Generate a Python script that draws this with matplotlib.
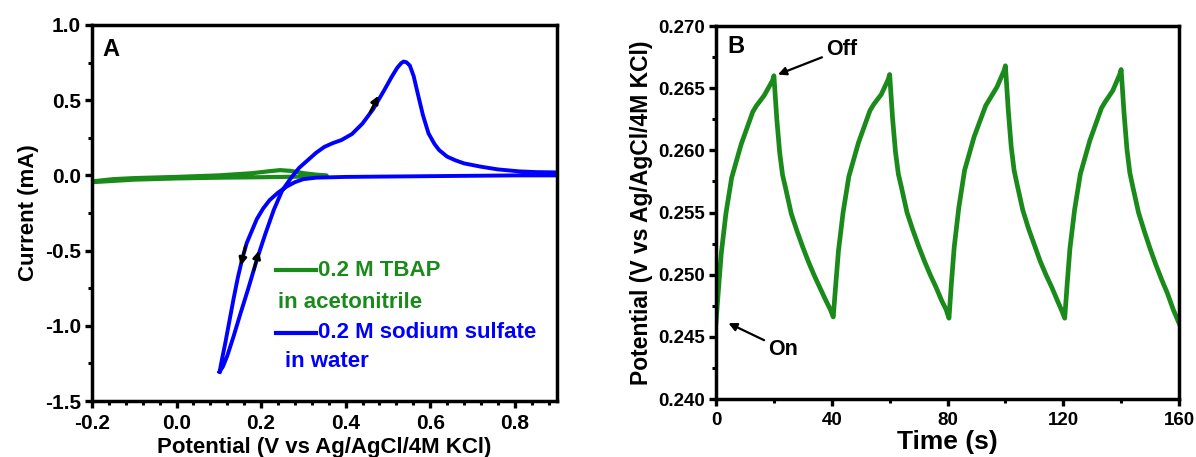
import matplotlib
matplotlib.use('Agg')
import matplotlib.pyplot as plt
from matplotlib.ticker import MultipleLocator

plt.rcParams['font.family'] = ['Liberation Sans', 'DejaVu Sans']
plt.rcParams['font.weight'] = 'bold'
plt.rcParams['axes.labelweight'] = 'bold'
plt.rcParams['axes.unicode_minus'] = False

# ---- panel A: cyclic voltammograms ----
# blue: 0.2 M sodium sulfate in water (forward scan then reverse scan)
blue_v = [0.102, 0.11, 0.12, 0.135, 0.15, 0.17, 0.19, 0.21, 0.23, 0.25, 0.27, 0.29, 0.31,
          0.33, 0.35, 0.37, 0.39, 0.415, 0.44, 0.465, 0.49, 0.51, 0.522, 0.531, 0.537,
          0.544, 0.552, 0.561, 0.571, 0.583, 0.596, 0.61, 0.621, 0.64, 0.66, 0.68, 0.72,
          0.76, 0.81, 0.85, 0.9,
          0.9, 0.8, 0.6, 0.4, 0.33, 0.3, 0.28, 0.26, 0.24, 0.22, 0.205, 0.19, 0.178,
          0.166, 0.155, 0.145, 0.135, 0.125, 0.115, 0.107, 0.102]
blue_i = [-1.305, -1.27, -1.2, -1.07, -0.93, -0.75, -0.56, -0.39, -0.23, -0.1, -0.02, 0.05, 0.1,
          0.15, 0.19, 0.215, 0.235, 0.275, 0.345, 0.44, 0.56, 0.66, 0.715, 0.745, 0.757,
          0.752, 0.73, 0.66, 0.54, 0.40, 0.28, 0.21, 0.169, 0.125, 0.1, 0.08, 0.058,
          0.04, 0.027, 0.022, 0.02,
          0.0, 0.0, -0.005, -0.01, -0.015, -0.025, -0.045, -0.075, -0.115, -0.165, -0.22,
          -0.29, -0.37, -0.45, -0.56, -0.68, -0.82, -0.97, -1.12, -1.23, -1.305]
# green: 0.2 M TBAP in acetonitrile
green_v = [-0.2, -0.15, -0.1, 0.0, 0.1, 0.18, 0.22, 0.245, 0.27, 0.3, 0.33, 0.355,
           0.355, 0.3, 0.2, 0.1, 0.0, -0.1, -0.2]
green_i = [-0.04, -0.025, -0.018, -0.01, 0.0, 0.015, 0.028, 0.035, 0.03, 0.015, 0.005, 0.0,
           -0.005, -0.008, -0.012, -0.015, -0.02, -0.028, -0.045]

# ---- panel B: potential vs time (light on/off) ----
time_s = [0, 0.8, 1.8, 3.4, 5.4, 8.7, 12.7, 14, 16.6, 19.5, 20,
          21, 22, 23, 24, 26, 28, 30, 32, 34, 36, 38, 39.5, 40.5,
          41.3, 42.3, 43.9, 45.9, 49.2, 53.2, 54.5, 57.1, 59.5, 60,
          61, 62, 63, 64, 66, 68, 70, 72, 74, 76, 78, 79.5, 80.5,
          81.3, 82.3, 83.9, 85.9, 89.2, 93.2, 94.5, 97.1, 99.5, 100,
          101, 102, 103, 104, 106, 108, 110, 112, 114, 116, 118, 119.5, 120.5,
          121.3, 122.3, 123.9, 125.9, 129.2, 133.2, 134.5, 137.1, 139.5, 140,
          141, 142, 143, 144, 146, 148, 150, 152, 154, 156, 158, 160]
potential = [0.2462, 0.2487, 0.2517, 0.2549, 0.2578, 0.2605, 0.2631, 0.2636, 0.2644, 0.2656, 0.2660,
             0.2625, 0.2598, 0.2580, 0.2570, 0.2549, 0.2535, 0.2522, 0.2510, 0.2499, 0.2489, 0.2479, 0.2472, 0.2466,
             0.2490, 0.2519, 0.2550, 0.2579, 0.2606, 0.2632, 0.2637, 0.2645, 0.2657, 0.2661,
             0.2626, 0.2599, 0.2581, 0.2571, 0.2550, 0.2536, 0.2523, 0.2511, 0.2500, 0.2490, 0.2479, 0.2472, 0.2465,
             0.2492, 0.2522, 0.2554, 0.2584, 0.2611, 0.2636, 0.2641, 0.2651, 0.2664, 0.2668,
             0.2632, 0.2603, 0.2584, 0.2573, 0.2552, 0.2537, 0.2524, 0.2511, 0.2500, 0.2490, 0.2479, 0.2471, 0.2465,
             0.2491, 0.2521, 0.2552, 0.2581, 0.2608, 0.2634, 0.2639, 0.2648, 0.2661, 0.2665,
             0.2630, 0.2601, 0.2582, 0.2571, 0.2550, 0.2535, 0.2521, 0.2508, 0.2496, 0.2485, 0.2472, 0.2461]

GREEN = '#1a8a1a'
BLUE = '#0000ff'

fig = plt.figure(figsize=(11.96, 4.57), dpi=100)
axA = fig.add_axes([0.0769, 0.1225, 0.3888, 0.8228])
axB = fig.add_axes([0.5987, 0.1269, 0.3871, 0.8162])

for ax in (axA, axB):
    for s in ax.spines.values():
        s.set_linewidth(2.5)
    ax.tick_params(which='major', direction='out', length=5, width=2.4,
                   top=False, right=False, pad=3)
    ax.tick_params(which='minor', direction='out', length=3, width=2.2,
                   top=False, right=False)

# panel A
axA.plot(green_v, green_i, color=GREEN, lw=3.0)
axA.plot(blue_v, blue_i, color=BLUE, lw=2.8)
for tail, head in [((0.458, 0.42), (0.478, 0.53)),
                   ((0.163, -0.47), (0.152, -0.6)),
                   ((0.183, -0.63), (0.195, -0.5))]:
    axA.annotate('', xy=head, xytext=tail,
                 arrowprops=dict(arrowstyle='-|>', color='k', lw=2.0,
                                 mutation_scale=11, shrinkA=0, shrinkB=0))
axA.set_xlim(-0.2, 0.9)
axA.set_ylim(-1.5, 1.0)
axA.xaxis.set_major_locator(MultipleLocator(0.2))
axA.xaxis.set_minor_locator(MultipleLocator(0.04))
axA.yaxis.set_major_locator(MultipleLocator(0.5))
axA.yaxis.set_minor_locator(MultipleLocator(0.25))
axA.tick_params(labelsize=15)
axA.tick_params(axis='x', pad=4)
axA.set_xlabel('Potential (V vs Ag/AgCl/4M KCl)', fontsize=16, labelpad=3)
axA.set_ylabel('Current (mA)', fontsize=16, labelpad=4)
axA.text(0.022, 0.935, 'A', transform=axA.transAxes, fontsize=17,
         fontweight='bold', va='center', ha='left')

# legend drawn as text entries
axA.plot([0.396, 0.482], [0.348, 0.348], color=GREEN, lw=3.0, transform=axA.transAxes)
axA.plot([0.396, 0.482], [0.181, 0.181], color=BLUE, lw=3.0, transform=axA.transAxes)
axA.text(0.487, 0.348, '0.2 M TBAP', color=GREEN, fontsize=16, transform=axA.transAxes,
         va='center', ha='left')
axA.text(0.400, 0.263, 'in acetonitrile', color=GREEN, fontsize=16, transform=axA.transAxes,
         va='center', ha='left')
axA.text(0.487, 0.181, '0.2 M sodium sulfate', color=BLUE, fontsize=16,
         transform=axA.transAxes, va='center', ha='left')
axA.text(0.415, 0.104, 'in water', color=BLUE, fontsize=16, transform=axA.transAxes,
         va='center', ha='left')

# panel B
axB.plot(time_s, potential, color=GREEN, lw=3.4)
axB.set_xlim(0, 160)
axB.set_ylim(0.240, 0.270)
axB.xaxis.set_major_locator(MultipleLocator(40))
axB.xaxis.set_minor_locator(MultipleLocator(20))
axB.yaxis.set_major_locator(MultipleLocator(0.005))
axB.yaxis.set_minor_locator(MultipleLocator(0.0025))
axB.yaxis.set_major_formatter(plt.FormatStrFormatter('%.3f'))
axB.tick_params(labelsize=13.5)
axB.tick_params(axis='x', pad=4)
axB.set_xlabel('Time (s)', fontsize=19, labelpad=1)
axB.set_ylabel('Potential (V vs Ag/AgCl/4M KCl)', fontsize=16.5, labelpad=4)
axB.text(0.024, 0.944, 'B', transform=axB.transAxes, fontsize=17,
         fontweight='bold', va='center', ha='left')
axB.annotate('Off', xy=(21.4, 0.2661), xytext=(38.0, 0.2681), fontsize=15.5,
             va='center', ha='left',
             arrowprops=dict(arrowstyle='-|>', color='k', lw=1.6, mutation_scale=12,
                             shrinkA=1, shrinkB=0))
axB.annotate('On', xy=(4.3, 0.2461), xytext=(18.0, 0.2440), fontsize=15.5,
             va='center', ha='left',
             arrowprops=dict(arrowstyle='-|>', color='k', lw=1.6, mutation_scale=12,
                             shrinkA=1, shrinkB=0))

fig.savefig('out.png', dpi=100)
